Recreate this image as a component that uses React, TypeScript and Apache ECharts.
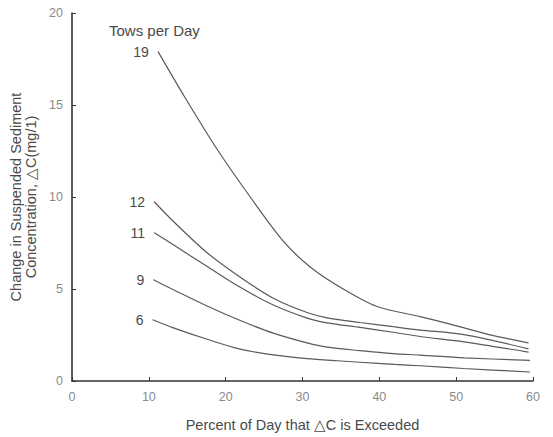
import React, { useEffect, useRef } from "react";
import * as echarts from "echarts";

const towLabels = ["19", "12", "11", "9", "6"];

const xs19 = [11.2, 14.5, 18.8, 23.2, 27.5, 31.0, 35.3, 39.7, 45.3, 49.6, 54.0, 59.4];
const ys19 = [17.9, 15.55, 12.65, 10.0, 7.6, 6.2, 5.0, 4.05, 3.5, 3.05, 2.55, 2.07];

const xs12 = [10.7, 13.2, 17.5, 21.9, 26.2, 30.6, 33.2, 37.5, 41.8, 45.3, 51.0, 59.4];
const ys12 = [9.74, 8.67, 7.0, 5.64, 4.5, 3.72, 3.43, 3.18, 2.95, 2.77, 2.52, 1.75];

const xs11 = [10.7, 13.2, 17.5, 21.9, 26.2, 30.6, 33.2, 37.5, 41.8, 45.3, 51.0, 59.4];
const ys11 = [8.06, 7.4, 6.25, 5.09, 4.13, 3.42, 3.16, 2.91, 2.65, 2.42, 2.13, 1.57];

const xs9 = [10.6, 13.2, 17.5, 21.9, 26.2, 30.6, 33.2, 37.5, 41.8, 45.3, 51.0, 59.6];
const ys9 = [5.5, 4.96, 4.09, 3.29, 2.6, 2.07, 1.84, 1.65, 1.49, 1.41, 1.26, 1.12];

const xs6 = [10.5, 13.2, 17.5, 21.9, 26.2, 30.6, 34.5, 37.5, 42.0, 45.3, 51.0, 59.6];
const ys6 = [3.33, 2.89, 2.28, 1.73, 1.42, 1.22, 1.1, 1.02, 0.9, 0.83, 0.68, 0.49];

const xTicks = [0, 10, 20, 30, 40, 50, 60];
const yTicks = [0, 5, 10, 15, 20];

const curveXs = [xs19, xs12, xs11, xs9, xs6];
const curveYs = [ys19, ys12, ys11, ys9, ys6];

const FONT = "Liberation Sans";
const LINE = "#5a5a5a";
const TEXT = "#4a4a4a";

export default function App() {
  const ref = useRef<HTMLDivElement>(null);
  useEffect(() => {
    if (!ref.current) return;
    const chart = echarts.init(ref.current, null, { renderer: "svg" });
    const series = curveXs.map((xsArr, i) => ({
      type: "line",
      name: towLabels[i],
      smooth: 0.3,
      showSymbol: true,
      showAllSymbol: true,
      symbol: "circle",
      symbolSize: 0.5,
      itemStyle: { color: LINE },
      lineStyle: { color: LINE, width: 1.2 },
      data: xsArr.map((x, j) =>
        j === 0
          ? {
              value: [x, curveYs[i][j]],
              label: {
                show: true,
                formatter: towLabels[i],
                position: "left",
                distance: 9,
                color: TEXT,
                fontFamily: FONT,
                fontSize: 14,
              },
            }
          : { value: [x, curveYs[i][j]] }
      ),
    }));
    chart.setOption({
      animation: false,
      backgroundColor: "#ffffff",
      title: {
        text: "Tows per Day",
        left: 104,
        top: 18,
        textStyle: { color: TEXT, fontFamily: FONT, fontSize: 15, fontWeight: "normal" },
      },
      grid: { left: 72, right: 20, top: 13, bottom: 55 },
      xAxis: {
        type: "value",
        min: xTicks[0],
        max: xTicks[xTicks.length - 1],
        interval: 10,
        name: "Percent of Day that \u25B3C is Exceeded",
        nameLocation: "middle",
        nameGap: 36,
        nameTextStyle: { color: TEXT, fontFamily: FONT, fontSize: 14.5 },
        axisLine: { lineStyle: { color: "#333", width: 1.6 } },
        axisTick: { inside: true, length: 4, lineStyle: { color: "#333" } },
        axisLabel: { color: "#8a8a8a", fontFamily: FONT, fontSize: 12.5, margin: 9 },
        splitLine: { show: false },
      },
      yAxis: {
        type: "value",
        min: yTicks[0],
        max: yTicks[yTicks.length - 1],
        interval: 5,
        name: "Change in Suspended Sediment\nConcentration, \u25B3C(mg/1)",
        nameLocation: "middle",
        nameRotate: 90,
        nameGap: 30,
        nameTextStyle: { color: TEXT, fontFamily: FONT, fontSize: 14.5, lineHeight: 15 },
        axisLine: { show: true, lineStyle: { color: "#333", width: 1.6 } },
        axisTick: { show: true, inside: true, length: 4, lineStyle: { color: "#333" } },
        axisLabel: { color: "#8a8a8a", fontFamily: FONT, fontSize: 12.5, margin: 9 },
        splitLine: { show: false },
      },
      series,
    });
    return () => chart.dispose();
  }, []);
  return <div ref={ref} style={{ width: 553, height: 437, position: "absolute", left: 0, top: 0 }} />;
}
